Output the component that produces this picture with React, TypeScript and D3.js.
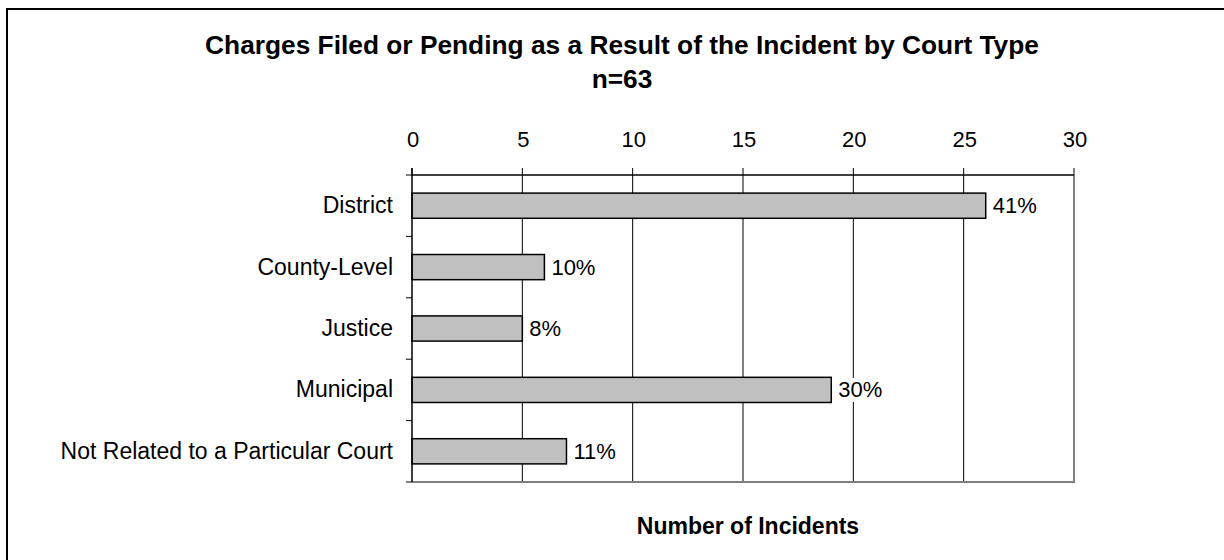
import React from "react";
import * as d3 from "d3";

const categories = [
  "District",
  "County-Level",
  "Justice",
  "Municipal",
  "Not Related to a Particular Court",
];
const values = [26, 6, 5, 19, 7];
const percentLabels = ["41%", "10%", "8%", "30%", "11%"];
const xTicks = [0, 5, 10, 15, 20, 25, 30];
const titleLine1 = "Charges Filed or Pending as a Result of the Incident by Court Type";
const titleLine2 = "n=63";
const xAxisTitle = "Number of Incidents";

const FONT = "'Liberation Sans', Arial, Helvetica, sans-serif";

export default function App() {
  const W = 1224;
  const H = 560;
  const left = 412;
  const right = 1074;
  const top = 175;
  const bottom = 482;

  const x = d3.scaleLinear().domain([0, 30]).range([left, right]);
  const y = d3.scaleBand<string>().domain(categories).range([top, bottom]).padding(0);
  const bw = y.bandwidth();
  const barH = bw * 0.41;
  const boundaries = d3.range(categories.length + 1).map((i) => top + i * bw);

  return (
    <svg
      width={W}
      height={H}
      style={{ position: "absolute", left: 0, top: 0, background: "#fff" }}
      fontFamily={FONT}
    >
      <rect x={0} y={0} width={W} height={H} fill="#fff" />
      {/* outer chart border */}
      <rect x={7} y={9} width={W + 20} height={H + 20} fill="none" stroke="#000" strokeWidth={2} />

      {/* title */}
      <text x={622} y={54} textAnchor="middle" fontSize={26.3} fontWeight="bold" fill="#000">
        {titleLine1}
      </text>
      <text x={622} y={88} textAnchor="middle" fontSize={26.3} fontWeight="bold" fill="#000">
        {titleLine2}
      </text>

      {/* gridlines */}
      {xTicks
        .filter((t) => t !== 0 && t !== 30)
        .map((t) => (
          <line key={"g" + t} x1={x(t)} x2={x(t)} y1={top} y2={bottom} stroke="#000" strokeWidth={1} />
        ))}

      {/* plot border right & bottom */}
      <line x1={right} x2={right} y1={top} y2={bottom + 1} stroke="#808080" strokeWidth={2} />
      <line x1={left} x2={right + 1} y1={bottom} y2={bottom} stroke="#808080" strokeWidth={2} />

      {/* bars */}
      {values.map((v, i) => {
        const c = categories[i];
        const yc = (y(c) as number) + bw / 2;
        return (
          <g key={c}>
            <rect
              x={x(0)}
              y={yc - barH / 2}
              width={x(v) - x(0)}
              height={barH}
              fill="#C0C0C0"
              stroke="#000"
              strokeWidth={1.5}
            />
            <rect x={x(v) + 4} y={yc - 12} width={percentLabels[i].length * 14.5} height={24} fill="#fff" />
            <text x={x(v) + 7} y={yc + 7.5} fontSize={22} fill="#000">
              {percentLabels[i]}
            </text>
            <text x={393} y={yc + 7.5} textAnchor="end" fontSize={23} fill="#000">
              {c}
            </text>
          </g>
        );
      })}

      {/* top value axis */}
      <line x1={left} x2={right} y1={top} y2={top} stroke="#000" strokeWidth={1.5} />
      {xTicks.map((t) => (
        <g key={"t" + t}>
          <line x1={x(t)} x2={x(t)} y1={top - 7} y2={top} stroke="#000" strokeWidth={1} />
          <text x={x(t) + 1} y={146.5} textAnchor="middle" fontSize={22} fill="#000">
            {t}
          </text>
        </g>
      ))}

      {/* left category axis */}
      <line x1={left} x2={left} y1={top - 7} y2={bottom} stroke="#000" strokeWidth={1.5} />
      {boundaries.map((b, i) => (
        <line key={"c" + i} x1={left - 6} x2={left} y1={b} y2={b} stroke="#000" strokeWidth={1} />
      ))}

      {/* x-axis title */}
      <text x={748} y={534} textAnchor="middle" fontSize={23} fontWeight="bold" fill="#000">
        {xAxisTitle}
      </text>
    </svg>
  );
}
